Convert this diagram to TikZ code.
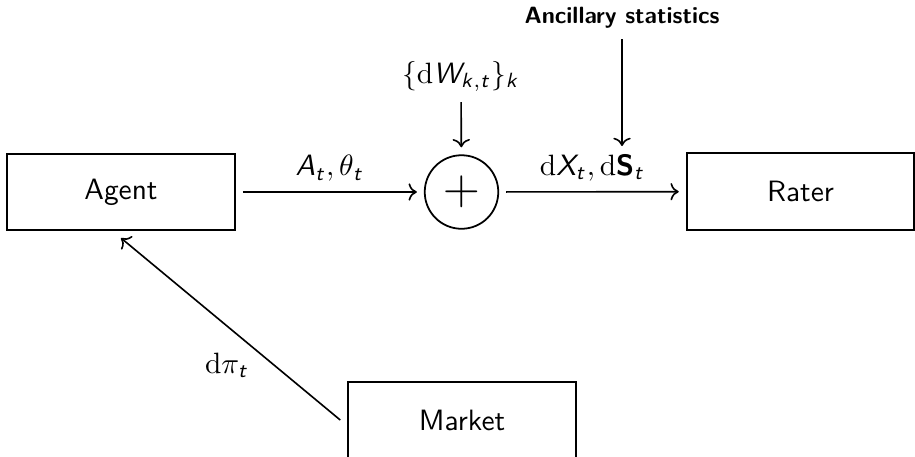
\documentclass[tikz,border=0pt]{standalone}
\usetikzlibrary{arrows.meta}
\DeclareMathAlphabet{\mathsfit}{OT1}{cmss}{m}{sl}
\DeclareMathAlphabet{\mathsfbf}{OT1}{cmss}{bx}{n}
\begin{document}
\begin{tikzpicture}[x=0.34pt,y=-0.34pt,font=\sffamily,
  blk/.style={draw,line width=0.7pt,minimum width=77.4pt,minimum height=25.9pt,inner sep=0pt,outer sep=2.7pt},
  sumnode/.style={draw,circle,line width=0.6pt,minimum size=25pt,inner sep=0pt,outer sep=2.7pt},
  conn/.style={->,line width=0.55pt},
  lbl/.style={inner sep=3.33pt}]
\useasboundingbox (0,0) rectangle (915,456);
\node[blk] (agent) at (121,192) {Agent};
\node[blk] (rater) at (800.5,191.5) {Rater};
\node[blk] (market) at (462,420) {Market};
\node[sumnode] (sum) at (461.5,192) {\LARGE$+$};
\node[lbl,anchor=south] (dw) at (461,102) {$\{\mathrm{d}\mathsfit{W}_{\mathsfit{k},\mathsfit{t}}\}_{\mathsfit{k}}$};
\node[lbl,anchor=south,font=\sffamily\bfseries\footnotesize] (anc) at (622,39) {Ancillary statistics};
\coordinate (ancend) at (622,146);
\node[lbl] (dpi) at (227,365) {$\mathrm{d}\pi_{\mathsfit{t}}$};
\draw[conn] (agent) -- node[lbl,above] {$\mathsfit{A}_{\mathsfit{t}},\theta_{\mathsfit{t}}$} (sum);
\draw[conn] (sum) -- node[lbl,above] {$\mathrm{d}\mathsfit{X}_{\mathsfit{t}},\mathrm{d}\mathsfbf{S}_{\mathsfit{t}}$} (rater);
\draw[conn] (dw) -- (sum);
\draw[conn] (anc) -- (ancend);
\draw[conn] (market.west) -- (agent.south);
\end{tikzpicture}
\end{document}
